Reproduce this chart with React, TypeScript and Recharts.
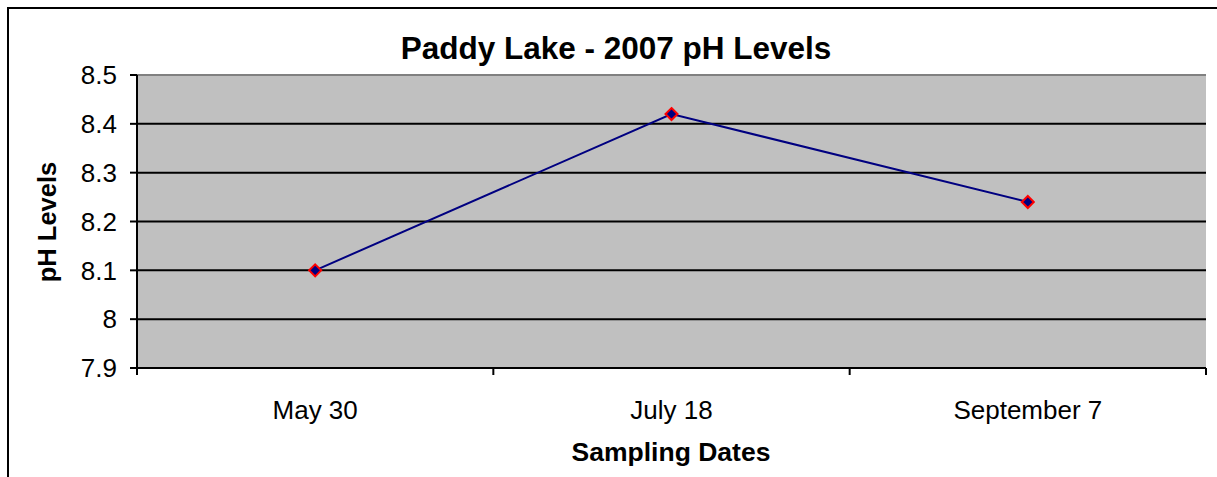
import { CartesianGrid, Line, LineChart, ReferenceLine, XAxis, YAxis } from "recharts";

const dates = ["May 30", "July 18", "September 7"];
const phLevels = [8.1, 8.42, 8.24];
const yTicks = [7.9, 8, 8.1, 8.2, 8.3, 8.4, 8.5];

const data = dates.map((date, i) => ({ date, ph: phLevels[i] }));

const FONT = "'Liberation Sans', Arial, sans-serif";
const TICK_FONT = 26;

// diamond marker, navy fill with red outline
const Diamond = (props: any) => {
  const { cx, cy } = props;
  if (cx == null || cy == null) return null;
  const r = 6;
  return (
    <polygon
      points={`${cx},${cy - r} ${cx + r},${cy} ${cx},${cy + r} ${cx - r},${cy}`}
      fill="#000080"
      stroke="#FF0000"
      strokeWidth={2}
    />
  );
};

// tick marks sit on the category boundaries, labels in the middle
const XTick = (props: any) => {
  const { x, y, payload, index, visibleTicksCount } = props;
  const half = payload?.offset ?? 178;
  const last = index === visibleTicksCount - 1;
  return (
    <g>
      <line x1={x - half} y1={y} x2={x - half} y2={y + 7} stroke="#000" strokeWidth={2} />
      {last && <line x1={x + half} y1={y} x2={x + half} y2={y + 7} stroke="#000" strokeWidth={2} />}
      <text x={x} y={y + 33} dy="0.71em" textAnchor="middle" fill="#000" fontSize={TICK_FONT} fontFamily={FONT}>
        {payload.value}
      </text>
    </g>
  );
};

export default function App() {
  return (
    <div style={{ position: "fixed", left: 0, top: 0, width: 1217, height: 477, overflow: "hidden", background: "#fff" }}>
      <div
        style={{
          position: "absolute",
          left: 7,
          top: 7,
          width: 1300,
          height: 600,
          borderTop: "2px solid #000",
          borderLeft: "2px solid #000",
        }}
      />
      <div style={{ position: "absolute", left: 0, top: 0 }}>
        <LineChart width={1217} height={477} data={data} margin={{ top: 75, right: 11, left: 0, bottom: 0 }}>
          <CartesianGrid fill="#C0C0C0" fillOpacity={1} vertical={false} stroke="#000" strokeWidth={2} />
          <ReferenceLine y={8.5} stroke="#808080" strokeWidth={2} />
          <XAxis
            dataKey="date"
            scale="band"
            height={109}
            axisLine={{ stroke: "#000", strokeWidth: 2 }}
            tickLine={false}
            tickSize={0}
            tickMargin={0}
            tick={<XTick />}
            interval={0}
          />
          <YAxis
            width={137}
            domain={[7.9, 8.5]}
            ticks={yTicks}
            allowDataOverflow
            axisLine={{ stroke: "#000", strokeWidth: 2 }}
            tickLine={{ stroke: "#000", strokeWidth: 2 }}
            tickSize={7}
            tickMargin={13}
            tick={{ fill: "#000", fontSize: TICK_FONT, fontFamily: FONT }}
          />
          <YAxis
            yAxisId="r"
            orientation="right"
            width={0}
            tick={false}
            tickLine={false}
            axisLine={{ stroke: "#808080", strokeWidth: 2 }}
          />
          <Line
            type="linear"
            dataKey="ph"
            stroke="#000080"
            strokeWidth={2}
            dot={<Diamond />}
            activeDot={false}
            isAnimationActive={false}
          />
          <text x={616} y={59} textAnchor="middle" fontFamily={FONT} fontWeight="bold" fontSize={31.5} fill="#000">
            Paddy Lake - 2007 pH Levels
          </text>
          <text x={671} y={461} textAnchor="middle" fontFamily={FONT} fontWeight="bold" fontSize={26.5} fill="#000">
            Sampling Dates
          </text>
          <text
            x={56}
            y={222}
            transform="rotate(-90 56 222)"
            textAnchor="middle"
            fontFamily={FONT}
            fontWeight="bold"
            fontSize={25.5}
            fill="#000"
          >
            pH Levels
          </text>
        </LineChart>
      </div>
    </div>
  );
}
